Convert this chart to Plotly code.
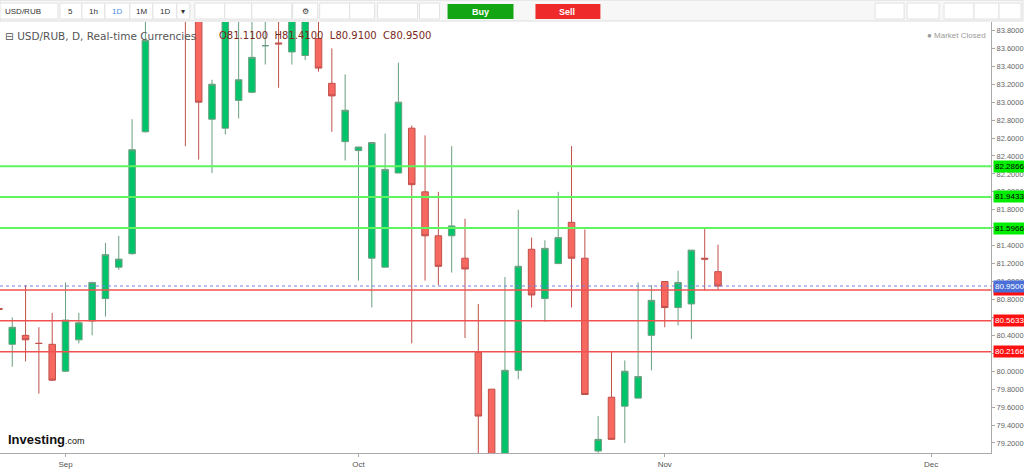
import plotly.graph_objects as go

# ---- data ----
idx = list(range(-1, 54))
opens = [80.70, 80.30, 80.40, 80.31, 80.30, 80.00, 80.35, 80.56, 80.81, 81.16, 81.31, 82.67, 83.95, 84.40, 84.20, 84.00,
         82.81, 82.71, 83.02, 83.11, 83.63, 83.66, 83.56, 83.52, 83.71, 83.21, 82.56, 82.46, 81.26, 81.16, 82.21,
         82.71, 82.00, 81.51, 81.51, 81.26, 80.21, 79.80, 79.00, 80.01, 81.36, 80.81, 81.20, 81.66, 81.26, 79.11,
         79.71, 79.61, 79.70, 80.40, 81.00, 80.71, 80.75, 81.26, 81.11]
highs = [80.75, 80.60, 80.96, 80.49, 80.65, 80.99, 80.65, 80.99, 81.43, 81.51, 82.81, 84.00, 84.60, 84.70, 84.50, 84.10,
         83.25, 84.10, 83.95, 83.95, 83.95, 83.95, 84.10, 84.10, 83.95, 83.60, 83.31, 82.50, 82.55, 82.65, 83.44,
         82.74, 82.63, 82.00, 82.51, 81.70, 80.75, 79.80, 81.05, 81.80, 81.49, 81.46, 82.00, 82.51, 81.58, 79.50,
         80.22, 80.12, 80.99, 80.96, 81.00, 81.12, 81.35, 81.60, 81.41]
lows = [80.65, 80.05, 80.11, 79.75, 79.89, 79.99, 80.31, 80.40, 80.61, 81.13, 81.30, 82.66, 83.92, 84.00, 82.51, 82.36,
        82.21, 82.64, 82.82, 83.10, 83.42, 83.16, 83.42, 83.47, 83.34, 82.67, 82.35, 81.01, 80.71, 81.16, 82.21,
        80.31, 81.01, 80.96, 81.10, 80.37, 79.00, 78.90, 78.90, 79.91, 80.71, 80.55, 81.20, 80.71, 79.74, 79.09,
        79.24, 79.20, 79.70, 80.01, 80.49, 80.51, 80.36, 80.90, 80.91]
closes = [80.69, 80.49, 80.35, 80.31, 79.90, 80.57, 80.54, 80.99, 81.30, 81.25, 82.47, 83.69, 84.40, 84.20, 84.00, 83.00,
          83.20, 84.00, 83.25, 83.50, 83.63, 83.65, 84.00, 84.00, 83.38, 83.07, 82.91, 82.50, 82.55, 82.25, 83.00,
          82.08, 81.51, 81.17, 81.62, 81.14, 79.50, 79.00, 80.01, 81.17, 80.85, 81.37, 81.49, 81.26, 79.74, 79.24,
          79.24, 80.00, 79.94, 80.79, 80.71, 80.99, 81.35, 81.25, 80.95]

month_pos = [4, 26, 49, 69]
month_labels = ["Sep", "Oct", "Nov", "Dec"]
y_ticks = [79.2, 79.4, 79.6, 79.8, 80.0, 80.2, 80.4, 80.6, 80.8, 81.0, 81.2, 81.4, 81.6, 81.8,
           82.0, 82.2, 82.4, 82.6, 82.8, 83.0, 83.2, 83.4, 83.6, 83.8]
resistance = [82.2866, 81.9433, 81.5966]
support = [80.9066, 80.5633, 80.2166]
last_close = 80.95
legend_title = "USD/RUB, D, Real-time Currencies"
ohlc_text = "O81.1100  H81.4100  L80.9100  C80.9500"

# ---- geometry helpers (pixel -> paper) ----
W, H = 1024, 469
ML, MR, MT, MB = 0, 32, 22, 14
PW, PH = W - ML - MR, H - MT - MB
def px(X): return (X - ML) / PW
def py(Y): return (H - MB - Y) / PH

fig = go.Figure(go.Candlestick(
    x=idx, open=opens, high=highs, low=lows, close=closes,
    increasing=dict(line=dict(color="#6a9f80", width=1), fillcolor="#00c46a"),
    decreasing=dict(line=dict(color="#c0504a", width=1), fillcolor="#f76860"),
    whiskerwidth=0, hoverinfo="skip"))

shapes, anns = [], []
def ann(**kw):
    kw.setdefault("showarrow", False)
    kw.setdefault("yanchor", "middle")
    anns.append(kw)

for v in resistance:
    shapes.append(dict(type="line", xref="paper", x0=0, x1=1, yref="y", y0=v, y1=v,
                       line=dict(color="#5ef55e", width=2)))
    ann(xref="paper", x=1.002, yref="y", y=v, text=f"{v:.4f}", xanchor="left",
        font=dict(size=8, color="#000"), bgcolor="#00ee00", borderpad=1)
for v in support:
    shapes.append(dict(type="line", xref="paper", x0=0, x1=1, yref="y", y0=v, y1=v,
                       line=dict(color="#f55050", width=1.5)))
    ann(xref="paper", x=1.002, yref="y", y=v, text=f"{v:.4f}", xanchor="left",
        font=dict(size=8, color="#fff"), bgcolor="#ff1010", borderpad=1)
shapes.append(dict(type="line", xref="paper", x0=0, x1=1, yref="y", y0=last_close, y1=last_close,
                   line=dict(color="#7080e8", width=1, dash="dot")))
ann(xref="paper", x=1.002, yref="y", y=last_close, text=f"{last_close:.4f}", xanchor="left",
    font=dict(size=8, color="#fff"), bgcolor="#4a6fd8", borderpad=1)

# toolbar
shapes.append(dict(type="rect", xref="paper", yref="paper", x0=px(0), x1=px(W), y0=py(21), y1=py(0),
                   fillcolor="#f7f7f7", line=dict(color="#dddddd", width=1), layer="above"))
boxes = [(0, 58, "USD/RUB"), (60, 82, "5"), (82, 105, "1h"), (105, 130, "1D"), (130, 153, "1M"),
         (153, 177, "1D"), (177, 190, "▾"), (195, 225, ""), (225, 252, ""), (252, 292, ""),
         (293, 318, "⚙"), (320, 350, ""), (350, 375, ""), (378, 418, ""), (420, 440, "")]
for x0, x1, t in boxes:
    shapes.append(dict(type="rect", xref="paper", yref="paper", x0=px(x0), x1=px(x1), y0=py(19), y1=py(3),
                       fillcolor="#ffffff", line=dict(color="#e2e2e2", width=1), layer="above"))
    if t:
        ann(xref="paper", yref="paper", x=px((x0 + x1) / 2 if t != "USD/RUB" else x0 + 3),
            xanchor="center" if t != "USD/RUB" else "left", y=py(11), text=t,
            font=dict(size=8, color="#4a90d9" if (x0 == 105) else "#333"))
for x0, x1 in [(876, 905), (908, 940), (945, 975), (975, 1000), (1000, 1022)]:
    shapes.append(dict(type="rect", xref="paper", yref="paper", x0=px(x0), x1=px(x1), y0=py(19), y1=py(3),
                       fillcolor="#ffffff", line=dict(color="#e2e2e2", width=1), layer="above"))
shapes.append(dict(type="rect", xref="paper", yref="paper", x0=px(448), x1=px(514), y0=py(19), y1=py(4),
                   fillcolor="#14a514", line=dict(width=0), layer="above"))
shapes.append(dict(type="rect", xref="paper", yref="paper", x0=px(536), x1=px(601), y0=py(19), y1=py(4),
                   fillcolor="#ee2a2a", line=dict(width=0), layer="above"))
ann(xref="paper", yref="paper", x=px(481), y=py(11.5), text="<b>Buy</b>", font=dict(size=9, color="#fff"))
ann(xref="paper", yref="paper", x=px(568), y=py(11.5), text="<b>Sell</b>", font=dict(size=9, color="#fff"))

# legend texts
ann(xref="paper", yref="paper", x=px(3), y=py(36), xanchor="left", text="⊟ " + legend_title,
    font=dict(size=10.5, color="#555", family="DejaVu Sans"))
ann(xref="paper", yref="paper", x=px(217), y=py(36), xanchor="left", text=ohlc_text,
    font=dict(size=10, color="#7a2a1a", family="DejaVu Sans"))
ann(xref="paper", yref="paper", x=px(989), y=py(36), xanchor="right", text="● Market Closed",
    font=dict(size=8, color="#999"))
ann(xref="paper", yref="paper", x=px(6), y=py(441), xanchor="left",
    text="<b>Investing</b><span style='font-size:9px'>.com</span>",
    font=dict(size=13, color="#111", family="Arial"))

fig.update_layout(
    width=W, height=H, margin=dict(l=ML, r=MR, t=MT, b=MB),
    paper_bgcolor="#ffffff", plot_bgcolor="#ffffff", showlegend=False, hovermode=False,
    shapes=shapes, annotations=anns, font=dict(family="Arial", color="#555"),
    xaxis=dict(range=[-0.92, 73.5], rangeslider=dict(visible=False), tickvals=month_pos,
               ticktext=month_labels, showgrid=False, zeroline=False, showline=True, linecolor="#aaa",
               ticks="outside", ticklen=3, tickcolor="#aaa", tickfont=dict(size=8, color="#555")),
    yaxis=dict(side="right", range=[79.088, 83.894], tickvals=y_ticks,
               ticktext=[f"{v:.4f}" for v in y_ticks], showgrid=False, zeroline=False,
               showline=True, linecolor="#aaa", ticks="outside", ticklen=3, tickcolor="#aaa",
               tickfont=dict(size=7.5, color="#666")),
)
fig.write_html("out.html", config={"displayModeBar": False},
               post_script="document.body.style.margin='0';document.body.style.overflow='hidden';")
